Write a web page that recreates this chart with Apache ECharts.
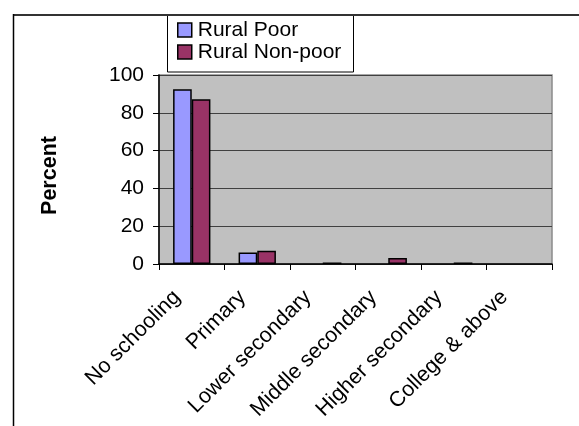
<!DOCTYPE html>
<html>
<head>
<meta charset="utf-8">
<script src="https://cdn.jsdelivr.net/npm/echarts@6/dist/echarts.min.js"></script>
<style>
  html, body { margin: 0; padding: 0; background: #fff; }
  #chart { width: 579px; height: 426px; }
</style>
</head>
<body>
<div id="chart"></div>
<script>
// Schooling level of rural households, share in percent
const categories = ['No schooling', 'Primary', 'Lower secondary', 'Middle secondary', 'Higher secondary', 'College & above'];
const ruralPoor = [92.5, 6.1, 0, 0, 0, 0];
const ruralNonPoor = [87.2, 7.0, 0.8, 3.2, 0.8, 0];
const yTicks = [0, 20, 40, 60, 80, 100];

const FONT = '"Liberation Sans", Arial, sans-serif';

// zero-height bars carry no outline
function barData(values) {
  return values.map(v => v === 0 ? { value: v, itemStyle: { borderWidth: 0 } } : v);
}

const chart = echarts.init(document.getElementById('chart'), null, { renderer: 'canvas' });

chart.setOption({
  animation: false,
  backgroundColor: '#ffffff',
  textStyle: { fontFamily: FONT },
  grid: {
    left: 159, right: 27, top: 75, bottom: 162,
    show: true,
    backgroundColor: '#c0c0c0',
    borderColor: '#8a8a8a',
    borderWidth: 1.5
  },
  graphic: [
    // outer chart frame (top and left edges)
    { type: 'line', shape: { x1: 13, y1: 15, x2: 579, y2: 15 }, style: { stroke: '#333', lineWidth: 2 }, z: 10 },
    { type: 'line', shape: { x1: 13.5, y1: 14, x2: 13.5, y2: 426 }, style: { stroke: '#000', lineWidth: 1.5 }, z: 10 },
    // legend box
    { type: 'rect', shape: { x: 167.5, y: 15, width: 186, height: 57 }, style: { fill: '#fff', stroke: '#000', lineWidth: 1 }, z: 5 }
  ],
  legend: {
    orient: 'vertical',
    left: 172, top: 14,
    padding: 5,
    itemWidth: 14, itemHeight: 14,
    itemGap: 0,
    icon: 'rect',
    itemStyle: { borderColor: '#000', borderWidth: 1.5 },
    textStyle: { fontFamily: FONT, fontSize: 21, lineHeight: 22, color: '#000', padding: [0, 0, 0, 1] },
    z: 6
  },
  xAxis: {
    type: 'category',
    data: categories,
    axisLine: { lineStyle: { color: '#000', width: 1.5 } },
    axisTick: { show: true, length: 6, interval: 0, lineStyle: { color: '#000', width: 1 } },
    axisLabel: {
      interval: 0,
      rotate: 45,
      margin: 15,
      fontFamily: FONT,
      fontSize: 21.5,
      color: '#000',
      padding: [0, 21, 0, 0]
    },
    splitLine: { show: false },
    z: 1
  },
  yAxis: {
    type: 'value',
    min: yTicks[0],
    max: yTicks[yTicks.length - 1],
    interval: yTicks[1] - yTicks[0],
    name: 'Percent',
    nameLocation: 'middle',
    nameRotate: 90,
    nameGap: 98,
    nameTextStyle: { fontFamily: FONT, fontSize: 21.5, fontWeight: 'bold', color: '#000', padding: [0, 12, 0, 0] },
    axisLine: { show: true, lineStyle: { color: '#000', width: 1.5 } },
    axisTick: { show: true, length: 6, lineStyle: { color: '#000', width: 1 } },
    axisLabel: { margin: 15, fontFamily: FONT, fontSize: 21, color: '#000' },
    splitLine: { show: true, lineStyle: { color: '#404040', width: 1 } }
  },
  series: [
    {
      name: 'Rural Poor',
      type: 'bar',
      data: barData(ruralPoor),
      barGap: '0%',
      barCategoryGap: '43%',
      z: 3,
      itemStyle: { color: '#9999ff', borderColor: '#000', borderWidth: 1.5 }
    },
    {
      name: 'Rural Non-poor',
      type: 'bar',
      data: barData(ruralNonPoor),
      barGap: '0%',
      barCategoryGap: '43%',
      z: 3,
      itemStyle: { color: '#993366', borderColor: '#000', borderWidth: 1.5 }
    }
  ]
});
</script>
</body>
</html>
